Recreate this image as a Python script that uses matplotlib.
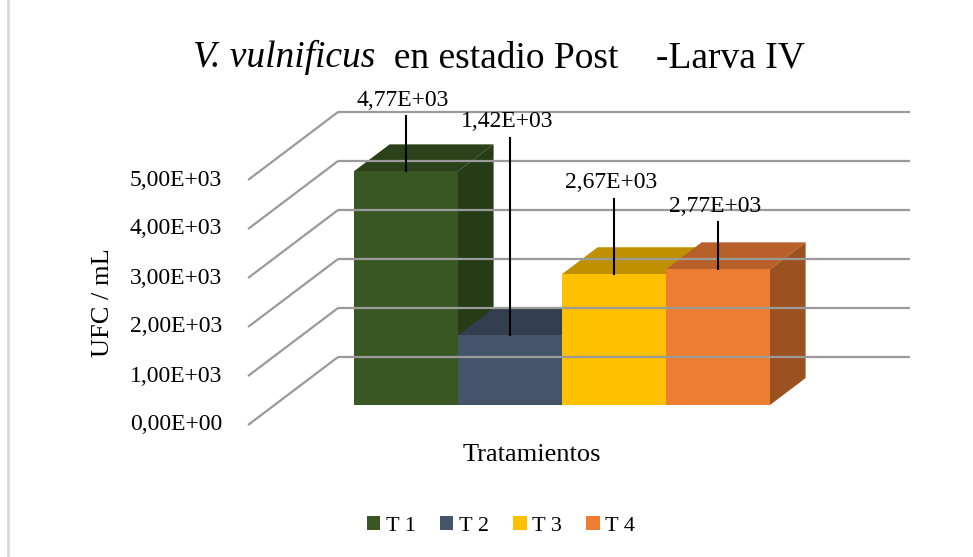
import matplotlib
matplotlib.use("Agg")
import matplotlib.pyplot as plt
from matplotlib.patches import Polygon, Patch
from matplotlib.lines import Line2D

plt.rcParams['font.family'] = ['Liberation Serif', 'DejaVu Serif']

# data
tratamientos = ["T 1", "T 2", "T 3", "T 4"]
ufc = [4770, 1420, 2670, 2770]
etiquetas = ["4,77E+03", "1,42E+03", "2,67E+03", "2,77E+03"]
ticks = [0, 1000, 2000, 3000, 4000, 5000]
tick_labels = ["0,00E+00", "1,00E+03", "2,00E+03", "3,00E+03", "4,00E+03", "5,00E+03"]

# layout (where the data labels sit, in UFC units above the floor)
label_y = [6224, 5776, 4531, 4061]

front_colors = ["#385723", "#44546a", "#ffc000", "#ed7d31"]
top_colors = ["#2b4119", "#333f50", "#bf9000", "#b8602a"]
side_colors = ["#253c17", "#2e3a4a", "#a87e00", "#9c5120"]
grid_color = "#9a9a9a"

W, H = 973, 557
fig = plt.figure(figsize=(W / 100, H / 100), dpi=100)
ax = fig.add_axes([0, 0, 1, 1])
ax.axis("off")

# oblique 3d projection: one bar = 104 px wide, 1 UFC = 0.049 px
px_bar = 104.0
px_ufc = 0.049
x0, y0 = 379.5, 425.0
ax.set_xlim(-x0 / px_bar, (W - x0) / px_bar)
ax.set_ylim(-(H - y0) / px_ufc, y0 / px_ufc)
DX = 90 / px_bar
DY = 68 / px_ufc


def proj(X, Y, Z):
    return (X + Z * DX, Y + Z * DY)


x_left, x_right = -1.264, 4.236
z_front, z_back = 0.294, 0.69

# side wall and back wall grid
for v in ticks:
    a = proj(x_left, v, 0)
    b = proj(x_left, v, 1)
    c = proj(x_right, v, 1)
    ax.plot([a[0], b[0]], [a[1], b[1]], color=grid_color, lw=1.6, solid_capstyle="butt")
    ax.plot([b[0], c[0]], [b[1], c[1]], color=grid_color, lw=1.6, solid_capstyle="butt")

for v, lab in zip(ticks, tick_labels):
    ax.annotate(lab, proj(x_left, v, 0), xytext=(-26, 0), textcoords="offset pixels",
                ha="right", va="center", fontsize=17)

# bars
for i, h in enumerate(ufc):
    xa, xb = i - 0.5, i + 0.5
    front = [proj(xa, 0, z_front), proj(xb, 0, z_front), proj(xb, h, z_front), proj(xa, h, z_front)]
    top = [proj(xa, h, z_front), proj(xb, h, z_front), proj(xb, h, z_back), proj(xa, h, z_back)]
    side = [proj(xb, 0, z_front), proj(xb, h, z_front), proj(xb, h, z_back), proj(xb, 0, z_back)]
    ax.add_patch(Polygon(side, closed=True, facecolor=side_colors[i], edgecolor="none"))
    ax.add_patch(Polygon(top, closed=True, facecolor=top_colors[i], edgecolor="none"))
    ax.add_patch(Polygon(front, closed=True, facecolor=front_colors[i], edgecolor="none"))

# data labels with leader lines
for i, h in enumerate(ufc):
    lx, ly = proj(i - 0.03, label_y[i], z_front)
    ax.text(lx, ly, etiquetas[i], ha="center", va="center", fontsize=17)
    p1 = proj(i, label_y[i] - 330, z_front)
    p2 = proj(i, h, z_front)
    ax.plot([p1[0], p2[0]], [p1[1], p2[1]], color="black", lw=1.5)

# title: italic species name + regular text
t1 = fig.text(193 / W, 1 - 67 / H, "V. vulnificus", fontsize=27, style="italic",
              ha="left", va="baseline")
ax.annotate("  en estadio Post    -Larva IV", xy=(1, 0), xycoords=t1,
            ha="left", va="bottom", fontsize=27)

fig.text(103 / W, 1 - 303 / H, "UFC / mL", rotation=90, ha="center", va="center", fontsize=19)
fig.text(532 / W, 1 - 455 / H, "Tratamientos", ha="center", va="center", fontsize=19)

handles = [Patch(facecolor=c, edgecolor="none") for c in front_colors]
fig.legend(handles, tratamientos, loc="center", bbox_to_anchor=(501 / W, 1 - 526 / H),
           ncol=4, frameon=False, fontsize=16, handlelength=0.6, handleheight=0.6,
           handletextpad=0.25, columnspacing=1.1)

# chart border on the left
fig.add_artist(Line2D([8 / W, 8 / W], [0, 1], transform=fig.transFigure, color="#d9d9d9", lw=2))

fig.savefig("out.png", dpi=100)
